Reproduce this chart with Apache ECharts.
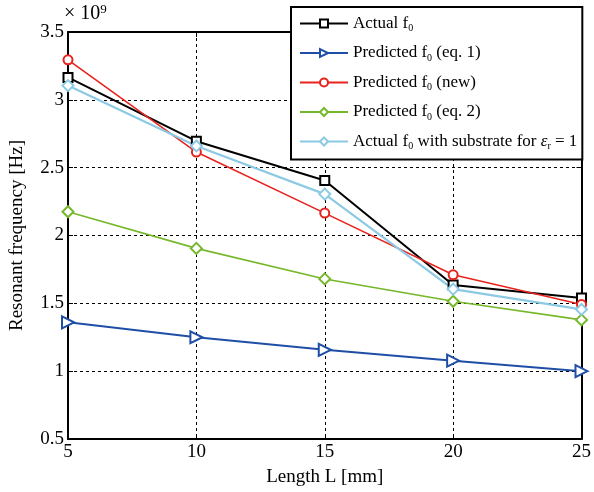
<!DOCTYPE html>
<html><head><meta charset="utf-8">
<script src="https://cdn.jsdelivr.net/npm/echarts@6/dist/echarts.min.js"></script>
<style>html,body{margin:0;padding:0;background:#fff}#c{width:594px;height:492px}</style>
</head><body><div id="c"></div>
<script>
const lengths = [5, 10, 15, 20, 25];
const actualF0 = [3.165, 2.695, 2.405, 1.635, 1.540];
const predictedEq1 = [1.36, 1.25, 1.157, 1.077, 1.00];
const predictedNew = [3.295, 2.615, 2.165, 1.710, 1.492];
const predictedEq2 = [2.175, 1.905, 1.680, 1.515, 1.378];
const actualSubstrate = [3.105, 2.660, 2.305, 1.605, 1.455];
const yTicks = [0.5, 1, 1.5, 2, 2.5, 3, 3.5];
const xTicks = [5, 10, 15, 20, 25];

const FONT = '"Liberation Serif", "Times New Roman", serif';
const pairs = arr => lengths.map((x, i) => [x, arr[i]]);

const seriesDefs = [
  {name: 'Actual f0', data: actualF0, color: '#000000', symbol: 'rect', size: 9, rot: 0, lw: 2,
   label: '{t|Actual f}{s|0}'},
  {name: 'Predicted f0 (eq. 1)', data: predictedEq1, color: '#1f4ea6', symbol: 'triangle', size: 12, rot: -90, lw: 2,
   label: '{t|Predicted f}{s|0}{t| (eq. 1)}'},
  {name: 'Predicted f0 (new)', data: predictedNew, color: '#e8231e', symbol: 'circle', size: 9, rot: 0, lw: 1.6,
   label: '{t|Predicted f}{s|0}{t| (new)}'},
  {name: 'Predicted f0 (eq. 2)', data: predictedEq2, color: '#76b82a', symbol: 'diamond', size: 11, rot: 0, lw: 1.6,
   label: '{t|Predicted f}{s|0}{t| (eq. 2)}'},
  {name: 'Actual f0 substrate', data: actualSubstrate, color: '#8ccae4', symbol: 'diamond', size: 11, rot: 0, lw: 2.2,
   label: '{t|Actual f}{s|0}{t| with substrate for }{i|ε}{s|r}{t| = 1}'}
];
const labelMap = {};
seriesDefs.forEach(d => labelMap[d.name] = d.label);

const chart = echarts.init(document.getElementById('c'), null, {renderer: 'canvas'});
const grid = {left: 65, right: 9, top: 32, bottom: 53};
const axisLineStyle = {color: '#000', width: 2};
chart.setOption({
  animation: false,
  backgroundColor: '#ffffff',
  grid: grid,
  xAxis: [{
    type: 'value', min: 5, max: 25, interval: 5, position: 'bottom',
    axisLine: {onZero: false, lineStyle: axisLineStyle},
    axisTick: {inside: true, length: 5, lineStyle: {color: '#000', width: 1}},
    axisLabel: {color: '#000', fontFamily: FONT, fontSize: 19, margin: 4},
    splitLine: {show: true, lineStyle: {color: '#000', type: [3, 3], width: 1}},
    name: 'Length L [mm]', nameLocation: 'middle', nameGap: 29,
    nameTextStyle: {color: '#000', fontFamily: FONT, fontSize: 19}
  }, {
    type: 'value', min: 5, max: 25, interval: 5, position: 'top',
    axisLine: {onZero: false, lineStyle: axisLineStyle},
    axisTick: {inside: true, length: 5, lineStyle: {color: '#000', width: 1}},
    axisLabel: {show: false}, splitLine: {show: false}
  }],
  yAxis: [{
    type: 'value', min: 0.5, max: 3.5, interval: 0.5, position: 'left',
    axisLine: {onZero: false, lineStyle: axisLineStyle},
    axisTick: {inside: true, length: 5, lineStyle: {color: '#000', width: 1}},
    axisLabel: {color: '#000', fontFamily: FONT, fontSize: 19, margin: 4,
      formatter: v => String(v)},
    splitLine: {show: true, lineStyle: {color: '#000', type: [3, 3], width: 1}},
    name: 'Resonant frequency [Hz]', nameLocation: 'middle', nameGap: 41, nameRotate: 90,
    nameTextStyle: {color: '#000', fontFamily: FONT, fontSize: 19}
  }, {
    type: 'value', min: 0.5, max: 3.5, interval: 0.5, position: 'right',
    axisLine: {onZero: false, lineStyle: axisLineStyle},
    axisTick: {inside: true, length: 5, lineStyle: {color: '#000', width: 1}},
    axisLabel: {show: false}, splitLine: {show: false}
  }],
  legend: {
    orient: 'vertical', left: 291, top: 7,
    backgroundColor: '#fff', borderColor: '#000', borderWidth: 2,
    padding: [8, 5, 8, 8], itemGap: 11, itemWidth: 48, itemHeight: 10,
    data: seriesDefs.map(d => d.name),
    formatter: name => labelMap[name],
    textStyle: {color: '#000', fontFamily: FONT, fontSize: 17,
      rich: {
        t: {fontFamily: FONT, fontSize: 17, color: '#000', height: 20},
        s: {fontFamily: FONT, fontSize: 10, color: '#000', verticalAlign: 'bottom', padding: [9, 0, 0, 0]},
        i: {fontFamily: FONT, fontSize: 17, color: '#000', fontStyle: 'italic'}
      }}
  },
  graphic: [{
    type: 'text', left: 64, top: 3,
    style: {
      text: '{a|× 10}{b|9}',
      rich: {
        a: {fontFamily: FONT, fontSize: 20, fill: '#000'},
        b: {fontFamily: FONT, fontSize: 13, fill: '#000', verticalAlign: 'top', padding: [0, 0, 9, 0]}
      }
    }
  }],
  series: seriesDefs.map(d => ({
    name: d.name, type: 'line', data: pairs(d.data),
    symbol: 'empty' + d.symbol.charAt(0).toUpperCase() + d.symbol.slice(1),
    symbolSize: d.size, symbolRotate: d.rot,
    showAllSymbol: true,
    lineStyle: {color: d.color, width: d.lw},
    itemStyle: {color: d.color, borderColor: d.color, borderWidth: 2},
    emphasis: {disabled: true}
  }))
});
</script></body></html>
